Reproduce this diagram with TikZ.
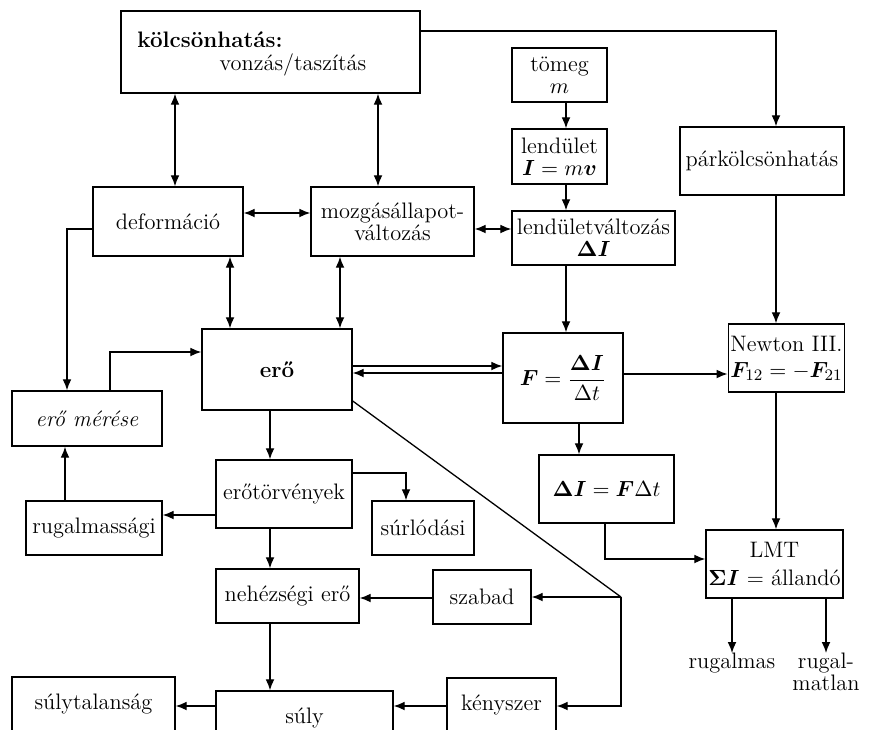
\documentclass[tikz,border=0pt]{standalone}
\usepackage{amsmath}
\usepackage{bm}
\usetikzlibrary{arrows.meta}

\tikzset{
  doboz/.style 2 args={draw, line width=0.7pt, minimum width=#1*0.5pt, minimum height=#2*0.5pt, inner sep=1pt, align=center},
  nyil/.style={line width=0.65pt, -{Latex[length=5.5pt,width=4.4pt]}},
  kettos/.style={line width=0.65pt, {Latex[length=5.5pt,width=4.4pt]}-{Latex[length=5.5pt,width=4.4pt]}},
  vonal/.style={line width=0.65pt}
}

\begin{document}
\begin{tikzpicture}[x=0.5pt,y=-0.5pt]
\fontsize{11.2}{11}\selectfont
\useasboundingbox (0,0) rectangle (872,729);
\clip (0,0) rectangle (872,729);

\node[doboz={299}{82}] (kolcs) at (270.5,52) {};
\node[anchor=west, inner sep=0] (kolcsA) at (137,40) {\textbf{kölcsönhatás:}};
\node[inner sep=0] (kolcsB) at (293,65) {vonzás/taszítás};

\node[doboz={150}{69}] (defor) at (168,221.5) {deformáció};
\node[doboz={163}{69}] (mozg) at (392.5,221.5) {mozgásállapot-\\változás};
\node[doboz={95}{54}] (tomeg) at (559.5,75) {tömeg\\$m$};
\node[doboz={95}{55}] (lend) at (559.5,156.5) {lendület\\$\bm{I} = m\bm{v}$};
\node[doboz={163}{54}] (lvalt) at (593.5,238) {lendületváltozás\\$\bm{\Delta I}$};
\node[doboz={164}{68}] (park) at (762,161) {párkölcsönhatás};
\node[doboz={109}{68}] (newton) at (786.5,358) {Newton III.\\[2pt]$\bm{F}_{12} = -\bm{F}_{21}$};
\node[doboz={120}{90}] (fbox) at (563,378) {$\bm{F} = \dfrac{\bm{\Delta I}}{\Delta t}$};
\node[doboz={150}{81}] (ero) at (277,369.5) {\textbf{erő}};
\node[doboz={135}{68}] (dI) at (606.5,489) {$\bm{\Delta I} = \bm{F}\Delta t$};
\node[doboz={137}{68}] (lmt) at (774.5,564) {LMT\\[3pt]$\bm{\Sigma I}$ = állandó};
\node[doboz={150}{55}] (meres) at (87,418.5) {\textit{erő mérése}};
\node[doboz={136}{54}] (rugsag) at (94,528) {rugalmassági};
\node[doboz={136}{68}] (etorv) at (284,494) {erőtörvények};
\node[doboz={102}{54}] (surl) at (423,528) {súrlódási};
\node[doboz={143}{54}] (nehez) at (287.5,596) {nehézségi erő};
\node[doboz={98}{54}] (szabad) at (482,597) {szabad};
\node[doboz={109}{54}] (kenysz) at (501.5,705) {kényszer};
\node[doboz={177}{54}] (suly) at (304.5,718) {súly};
\node[doboz={163}{54}] (sulytal) at (93.5,704) {súlytalanság};
\node[anchor=north, inner sep=0] (rugm) at (732,653) {rugalmas};
\node[anchor=north, inner sep=0, align=center] (rugl) at (826,653) {rugal-\\matlan};
\coordinate (elag) at (621,597);

\draw[kettos] (kolcs.south -| 175,0) -- (defor.north -| 175,0);
\draw[kettos] (kolcs.south -| 378,0) -- (mozg.north -| 378,0);
\draw[nyil] (kolcs.east |- 0,31) -| (park.north -| 776,0);
\draw[kettos] (defor.east |- 0,213) -- (mozg.west |- 0,213);
\draw[kettos] (mozg.east |- 0,229) -- (lvalt.west |- 0,229);
\draw[nyil] (tomeg.south -| 566,0) -- (lend.north -| 566,0);
\draw[nyil] (lend.south -| 566,0) -- (lvalt.north -| 566,0);
\draw[nyil] (lvalt.south -| 566,0) -- (fbox.north -| 566,0);
\draw[nyil] (park.south -| 776,0) -- (newton.north -| 776,0);
\draw[nyil] (newton.south -| 776,0) -- (lmt.north -| 776,0);
\draw[kettos] (defor.south -| 230,0) -- (ero.north -| 230,0);
\draw[kettos] (mozg.south -| 340,0) -- (ero.north -| 340,0);
\draw[nyil] (ero.east |- 0,366) -- (fbox.west |- 0,366);
\draw[nyil] (fbox.west |- 0,373) -- (ero.east |- 0,373);
\draw[nyil] (fbox.east |- 0,374) -- (newton.west |- 0,374);
\draw[nyil] (fbox.south -| 579,0) -- (dI.north -| 579,0);
\draw[nyil] (dI.south -| 605,0) |- (lmt.west |- 0,559);
\draw[nyil] (lmt.south -| 732,0) -- (rugm.north);
\draw[nyil] (lmt.south -| 826,0) -- (rugl.north);
\draw[nyil] (defor.west |- 0,229) -| (meres.north -| 67,0);
\draw[nyil] (meres.north -| 110,0) |- (ero.west |- 0,352);
\draw[nyil] (rugsag.north -| 65,0) -- (meres.south -| 65,0);
\draw[nyil] (ero.south -| 270,0) -- (etorv.north -| 270,0);
\draw[nyil] (etorv.west |- 0,515) -- (rugsag.east |- 0,515);
\draw[nyil] (etorv.east |- 0,473) -| (surl.north -| 406,0);
\draw[nyil] (etorv.south -| 270,0) -- (nehez.north -| 270,0);
\draw[nyil] (szabad.west |- 0,598) -- (nehez.east |- 0,598);
\draw[vonal] (ero.east |- 0,401) -- (elag);
\draw[nyil] (elag) -- (szabad.east |- elag);
\draw[nyil] (elag) |- (kenysz.east |- 0,706);
\draw[nyil] (kenysz.west |- 0,706) -- (suly.east |- 0,706);
\draw[nyil] (nehez.south -| 270,0) -- (suly.north -| 270,0);
\draw[nyil] (suly.west |- 0,706) -- (sulytal.east |- 0,706);
\end{tikzpicture}
\end{document}
